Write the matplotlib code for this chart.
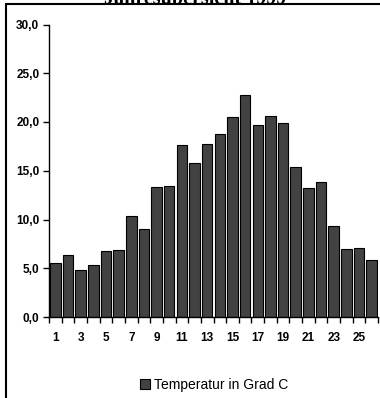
import matplotlib
matplotlib.use('Agg')
import matplotlib.pyplot as plt
from matplotlib.patches import Rectangle
from matplotlib.ticker import FuncFormatter, FixedLocator

# weekly mean temperature, 1999
wochen = list(range(1, 27))
temperatur = [5.5, 6.4, 4.8, 5.3, 6.75, 6.85, 10.4, 9.0, 13.3, 13.4, 17.6, 15.8, 17.7,
              18.8, 20.5, 22.8, 19.7, 20.6, 19.9, 15.35, 13.2, 13.8, 9.3, 7.0, 7.1, 5.8]
titel = 'Jahresübersicht 1999'
legende = 'Temperatur in Grad C'

plt.rcParams['font.family'] = ['Liberation Sans', 'DejaVu Sans']

figure = plt.figure(figsize=(3.8, 3.98), dpi=100)
axes = figure.add_axes([49 / 380, 81 / 398, 329 / 380, 292.5 / 398])

positions = [w - 1 for w in wochen]
axes.bar(positions, temperatur, width=0.83, color='#424242', edgecolor='black',
         linewidth=0.8, label=legende)

axes.set_xlim(-0.5, len(wochen) - 0.5)
axes.set_ylim(0, 30)
axes.set_yticks([0, 5, 10, 15, 20, 25, 30])
axes.yaxis.set_major_formatter(FuncFormatter(lambda v, p: ('%.1f' % v).replace('.', ',')))

# labels on every second week, ticks between the bars
axes.set_xticks(positions[::2])
axes.set_xticklabels([str(w) for w in wochen[::2]])
axes.xaxis.set_minor_locator(FixedLocator([p - 0.5 for p in positions] + [len(wochen) - 0.5]))
axes.tick_params(axis='x', which='major', length=0, pad=11)
axes.tick_params(axis='x', which='minor', length=4, width=1, direction='out')
axes.tick_params(axis='y', length=4, width=1, direction='out', pad=3)
for label in axes.get_xticklabels() + axes.get_yticklabels():
    label.set_fontsize(8.5)
    label.set_fontweight('bold')

axes.spines['top'].set_visible(False)
axes.spines['right'].set_visible(False)
axes.spines['left'].set_linewidth(1)
axes.spines['bottom'].set_linewidth(1)

legend = figure.legend(loc='center', bbox_to_anchor=(0.563, 1 - 385 / 398), frameon=False,
                       fontsize=10, handlelength=0.75, handleheight=0.75, handletextpad=0.25)

# outer chart border, open to the right and bottom
figure.patches.append(Rectangle((5.5 / 380, -0.1), 1.2, 1.1 - 4 / 398, transform=figure.transFigure,
                                fill=False, edgecolor='black', linewidth=1.5))
figure.text(195 / 380, 1 - 4.5 / 398, titel, ha='center', va='baseline',
            fontsize=14.5, fontweight='bold', family=['Liberation Serif', 'DejaVu Serif'])

figure.savefig('out.png', dpi=100)
